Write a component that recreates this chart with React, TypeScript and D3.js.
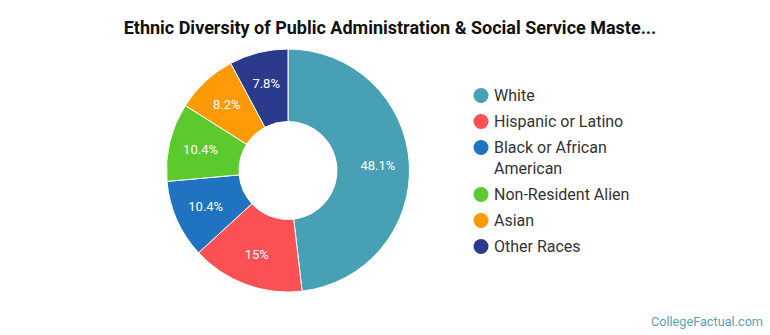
import React from "react";
import * as d3 from "d3";

const categories = ["White", "Hispanic or Latino", "Black or African American", "Non-Resident Alien", "Asian", "Other Races"];
const values = [48.1, 15, 10.4, 10.4, 8.2, 7.8];
const valueLabels = ["48.1%", "15%", "10.4%", "10.4%", "8.2%", "7.8%"];
const colors = ["#48a0b4", "#fc5154", "#1f73c0", "#5cca2c", "#fd9a05", "#2c3a8e"];
const legendLines = [["White"], ["Hispanic or Latino"], ["Black or African", "American"], ["Non-Resident Alien"], ["Asian"], ["Other Races"]];

const W = 770, H = 335;
const cx = 288, cy = 170.5, rOuter = 121.5, rInner = 49;
const font = "Roboto, 'Noto Sans', sans-serif";

export default function App() {
  const pie = d3.pie<number>().sort(null).value((d) => d)(values);
  const arc = d3.arc<d3.PieArcDatum<number>>().innerRadius(rInner).outerRadius(rOuter);
  const labelArc = d3.arc<d3.PieArcDatum<number>>().innerRadius(90).outerRadius(90);

  let y = 95.5;
  const legendRows = legendLines.map((lines, i) => {
    const row = { y, lines, i };
    y += 26 + (lines.length - 1) * 21;
    return row;
  });

  return (
    <svg width={W} height={H} style={{ position: "absolute", left: 0, top: 0, background: "#fff" }} fontFamily={font}>
      <text x={390} y={34} textAnchor="middle" fontSize={18} fontWeight="bold" fill="#111">
        Ethnic Diversity of Public Administration &amp; Social Service Maste...
      </text>
      <g transform={`translate(${cx},${cy})`}>
        {pie.map((d, i) => (
          <path key={categories[i]} d={arc(d) || ""} fill={colors[i]} stroke="#fff" strokeWidth={1} />
        ))}
        {pie.map((d, i) => {
          const [lx, ly] = labelArc.centroid(d);
          return (
            <text key={"l" + i} x={lx} y={ly} dy="0.35em" textAnchor="middle" fontSize={13} fill="#fff">
              {valueLabels[i]}
            </text>
          );
        })}
      </g>
      {legendRows.map((r) => (
        <g key={"lg" + r.i}>
          <circle cx={481} cy={r.y} r={7.5} fill={colors[r.i]} />
          {r.lines.map((ln, j) => (
            <text key={j} x={494} y={r.y + j * 21} dy="0.35em" fontSize={16} fill="#333">
              {ln}
            </text>
          ))}
        </g>
      ))}
      <text x={763} y={326} textAnchor="end" fontSize={12.7} fill="#5b9fb3">
        CollegeFactual.com
      </text>
    </svg>
  );
}
